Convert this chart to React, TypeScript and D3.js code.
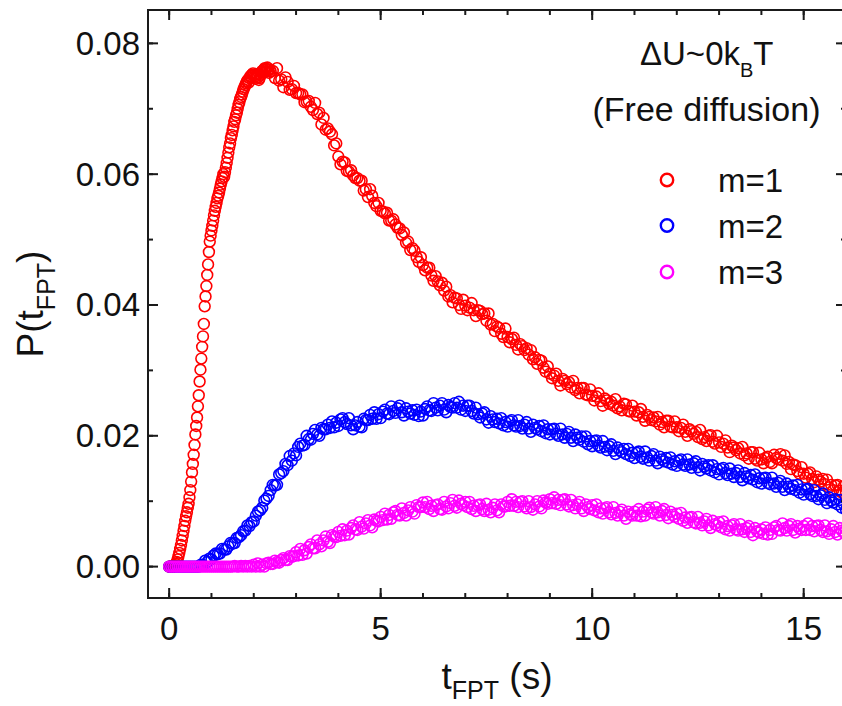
import React from "react";
import * as d3 from "d3";

// ---- sampling of the curves (s) ----
const m1RiseStart = 0;
const m1RiseStep = 0.02;
const m1TailStart = 2.45;
const sampleStep = 0.05;

// m=1, rising part, t = 0 ... 2.40 s (step 0.02 s)
const m1Rise = [
  0, 0, 0, 0, 0, 0, 0.0001, 0.0002, 0.0004, 0.0007,
  0.0011, 0.0016, 0.0021, 0.0027, 0.0033, 0.0040, 0.0047, 0.0055, 0.0062, 0.0070,
  0.0077, 0.0083, 0.0090, 0.0096, 0.0106, 0.0117, 0.0130, 0.0144, 0.0157, 0.0171,
  0.0186, 0.0202, 0.0215, 0.0228, 0.0245, 0.0262, 0.0283, 0.0301, 0.0318, 0.0336,
  0.0352, 0.0371, 0.0398, 0.0413, 0.0429, 0.0446, 0.0462, 0.0481, 0.0497, 0.0506,
  0.0514, 0.0521, 0.0529, 0.0537, 0.0544, 0.0550, 0.0556, 0.0563, 0.0567, 0.0572,
  0.0578, 0.0584, 0.0589, 0.0594, 0.0600, 0.0596, 0.0603, 0.0610, 0.0617, 0.0625,
  0.0633, 0.0641, 0.0647, 0.0655, 0.0660, 0.0667, 0.0673, 0.0680, 0.0684, 0.0690,
  0.0694, 0.0700, 0.0706, 0.0710, 0.0715, 0.0718, 0.0722, 0.0726, 0.0730, 0.0733,
  0.0736, 0.0739, 0.0742, 0.0744, 0.0740, 0.0747, 0.0750, 0.0748, 0.0752, 0.0754,
  0.0751, 0.0749, 0.0746, 0.0750, 0.0753, 0.0748, 0.0744, 0.0747, 0.0752, 0.0756,
  0.0758, 0.0755, 0.0760, 0.0762, 0.0757, 0.0761, 0.0763, 0.0759, 0.0755, 0.0760,
  0.0757,
];

// m=1, decaying part, t = 2.45 ... 16.00 s (step 0.05 s)
const m1Tail = [
  0.0758, 0.0747, 0.0762, 0.0743, 0.0745, 0.0733, 0.0748, 0.0741, 0.0729, 0.0730,
  0.0735, 0.0724, 0.0724, 0.0722, 0.0722, 0.0710, 0.0711, 0.0712, 0.0703, 0.0698,
  0.0709, 0.0692, 0.0694, 0.0676, 0.0686, 0.0668, 0.0670, 0.0665, 0.0661, 0.0644,
  0.0647, 0.0627, 0.0615, 0.0619, 0.0618, 0.0605, 0.0604, 0.0606, 0.0598, 0.0594,
  0.0594, 0.0590, 0.0590, 0.0575, 0.0577, 0.0565, 0.0577, 0.0567, 0.0556, 0.0551,
  0.0556, 0.0544, 0.0543, 0.0540, 0.0541, 0.0529, 0.0529, 0.0531, 0.0523, 0.0518,
  0.0517, 0.0507, 0.0511, 0.0495, 0.0497, 0.0484, 0.0487, 0.0483, 0.0473, 0.0466,
  0.0473, 0.0461, 0.0453, 0.0457, 0.0457, 0.0445, 0.0437, 0.0444, 0.0436, 0.0430,
  0.0434, 0.0422, 0.0428, 0.0413, 0.0415, 0.0404, 0.0411, 0.0410, 0.0400, 0.0394,
  0.0408, 0.0399, 0.0392, 0.0396, 0.0403, 0.0392, 0.0383, 0.0392, 0.0391, 0.0386,
  0.0387, 0.0376, 0.0387, 0.0370, 0.0371, 0.0360, 0.0367, 0.0365, 0.0356, 0.0351,
  0.0364, 0.0351, 0.0343, 0.0348, 0.0350, 0.0339, 0.0332, 0.0340, 0.0337, 0.0331,
  0.0334, 0.0324, 0.0331, 0.0317, 0.0320, 0.0310, 0.0316, 0.0315, 0.0304, 0.0298,
  0.0306, 0.0295, 0.0288, 0.0292, 0.0295, 0.0284, 0.0277, 0.0287, 0.0284, 0.0279,
  0.0282, 0.0274, 0.0284, 0.0270, 0.0273, 0.0265, 0.0273, 0.0273, 0.0263, 0.0262,
  0.0271, 0.0261, 0.0254, 0.0260, 0.0265, 0.0253, 0.0246, 0.0257, 0.0254, 0.0249,
  0.0252, 0.0246, 0.0256, 0.0242, 0.0245, 0.0239, 0.0249, 0.0248, 0.0238, 0.0237,
  0.0246, 0.0237, 0.0231, 0.0236, 0.0241, 0.0229, 0.0223, 0.0232, 0.0229, 0.0224,
  0.0228, 0.0222, 0.0229, 0.0217, 0.0221, 0.0213, 0.0223, 0.0223, 0.0214, 0.0213,
  0.0222, 0.0213, 0.0207, 0.0212, 0.0217, 0.0206, 0.0200, 0.0210, 0.0207, 0.0203,
  0.0206, 0.0198, 0.0209, 0.0195, 0.0198, 0.0192, 0.0200, 0.0201, 0.0191, 0.0188,
  0.0200, 0.0190, 0.0183, 0.0188, 0.0193, 0.0182, 0.0175, 0.0185, 0.0182, 0.0178,
  0.0181, 0.0173, 0.0183, 0.0170, 0.0173, 0.0165, 0.0175, 0.0175, 0.0165, 0.0162,
  0.0174, 0.0164, 0.0158, 0.0166, 0.0168, 0.0160, 0.0158, 0.0171, 0.0166, 0.0164,
  0.0172, 0.0162, 0.0170, 0.0157, 0.0160, 0.0149, 0.0156, 0.0155, 0.0146, 0.0142,
  0.0152, 0.0142, 0.0136, 0.0142, 0.0144, 0.0134, 0.0129, 0.0138, 0.0133, 0.0130,
  0.0134, 0.0126, 0.0133, 0.0121, 0.0125, 0.0117, 0.0124, 0.0125, 0.0116, 0.0113,
  0.0123, 0.0114,
];

// m=2, t = 0 ... 16.00 s (step 0.05 s)
const m2Values = [
  0, 0, 0, 0, 0, 0, 0, 0, 0, 0,
  0, 0, 0, 0, 0, 0.0003, 0.0002, 0.0009, 0.0007, 0.0012,
  0.0011, 0.0017, 0.0020, 0.0019, 0.0020, 0.0027, 0.0026, 0.0026, 0.0031, 0.0036,
  0.0035, 0.0036, 0.0044, 0.0045, 0.0048, 0.0054, 0.0055, 0.0063, 0.0062, 0.0068,
  0.0069, 0.0078, 0.0084, 0.0086, 0.0090, 0.0101, 0.0104, 0.0108, 0.0117, 0.0125,
  0.0124, 0.0125, 0.0141, 0.0143, 0.0146, 0.0157, 0.0155, 0.0169, 0.0162, 0.0173,
  0.0170, 0.0183, 0.0188, 0.0185, 0.0186, 0.0200, 0.0195, 0.0194, 0.0203, 0.0209,
  0.0202, 0.0200, 0.0212, 0.0210, 0.0210, 0.0217, 0.0212, 0.0222, 0.0213, 0.0220,
  0.0215, 0.0225, 0.0227, 0.0221, 0.0218, 0.0227, 0.0216, 0.0210, 0.0216, 0.0221,
  0.0214, 0.0213, 0.0226, 0.0224, 0.0224, 0.0232, 0.0226, 0.0236, 0.0226, 0.0233,
  0.0227, 0.0237, 0.0240, 0.0234, 0.0233, 0.0245, 0.0238, 0.0235, 0.0242, 0.0246,
  0.0236, 0.0231, 0.0242, 0.0237, 0.0234, 0.0239, 0.0232, 0.0240, 0.0230, 0.0237,
  0.0231, 0.0241, 0.0245, 0.0239, 0.0238, 0.0250, 0.0243, 0.0239, 0.0246, 0.0250,
  0.0240, 0.0236, 0.0247, 0.0244, 0.0243, 0.0250, 0.0243, 0.0252, 0.0240, 0.0246,
  0.0238, 0.0246, 0.0246, 0.0238, 0.0234, 0.0243, 0.0233, 0.0228, 0.0234, 0.0236,
  0.0225, 0.0220, 0.0230, 0.0225, 0.0221, 0.0226, 0.0219, 0.0227, 0.0216, 0.0221,
  0.0214, 0.0222, 0.0224, 0.0216, 0.0214, 0.0224, 0.0215, 0.0211, 0.0217, 0.0221,
  0.0211, 0.0206, 0.0217, 0.0212, 0.0210, 0.0215, 0.0207, 0.0216, 0.0204, 0.0210,
  0.0202, 0.0210, 0.0211, 0.0203, 0.0200, 0.0211, 0.0202, 0.0197, 0.0203, 0.0206,
  0.0197, 0.0192, 0.0202, 0.0197, 0.0194, 0.0199, 0.0191, 0.0199, 0.0187, 0.0192,
  0.0184, 0.0192, 0.0193, 0.0185, 0.0182, 0.0192, 0.0183, 0.0178, 0.0184, 0.0187,
  0.0177, 0.0172, 0.0182, 0.0178, 0.0175, 0.0180, 0.0172, 0.0180, 0.0169, 0.0174,
  0.0166, 0.0174, 0.0176, 0.0168, 0.0165, 0.0176, 0.0167, 0.0162, 0.0169, 0.0172,
  0.0162, 0.0158, 0.0168, 0.0164, 0.0161, 0.0166, 0.0159, 0.0167, 0.0156, 0.0161,
  0.0154, 0.0162, 0.0164, 0.0156, 0.0154, 0.0164, 0.0156, 0.0151, 0.0158, 0.0161,
  0.0152, 0.0147, 0.0157, 0.0153, 0.0150, 0.0155, 0.0147, 0.0155, 0.0144, 0.0149,
  0.0141, 0.0149, 0.0151, 0.0143, 0.0140, 0.0150, 0.0142, 0.0137, 0.0143, 0.0147,
  0.0137, 0.0132, 0.0143, 0.0138, 0.0135, 0.0140, 0.0133, 0.0141, 0.0129, 0.0135,
  0.0127, 0.0135, 0.0136, 0.0128, 0.0126, 0.0136, 0.0127, 0.0122, 0.0128, 0.0131,
  0.0122, 0.0117, 0.0127, 0.0122, 0.0119, 0.0124, 0.0117, 0.0125, 0.0113, 0.0118,
  0.0110, 0.0118, 0.0119, 0.0111, 0.0108, 0.0117, 0.0108, 0.0103, 0.0109, 0.0112,
  0.0102, 0.0097, 0.0106, 0.0101, 0.0098, 0.0103, 0.0095, 0.0102, 0.0090, 0.0095,
  0.0087,
];

// m=3, t = 0 ... 16.00 s (step 0.05 s)
const m3Values = [
  0, 0, 0, 0, 0, 0, 0, 0, 0, 0,
  0, 0, 0, 0, 0, 0, 0, 0, 0, 0,
  0, 0, 0, 0, 0, 0, 0, 0, 0, 0,
  0, 0.0001, 0, 0, 0.0001, 0, 0.0001, 0, 0.0001, 0,
  0.0003, 0, 0.0005, 0, 0.0003, 0, 0.0005, 0.0006, 0.0004, 0.0004,
  0.0009, 0.0007, 0.0006, 0.0010, 0.0013, 0.0010, 0.0010, 0.0016, 0.0015, 0.0016,
  0.0022, 0.0017, 0.0027, 0.0018, 0.0025, 0.0020, 0.0030, 0.0034, 0.0028, 0.0028,
  0.0040, 0.0034, 0.0031, 0.0040, 0.0046, 0.0038, 0.0036, 0.0048, 0.0046, 0.0045,
  0.0053, 0.0047, 0.0057, 0.0048, 0.0055, 0.0049, 0.0059, 0.0063, 0.0057, 0.0056,
  0.0068, 0.0061, 0.0058, 0.0066, 0.0071, 0.0063, 0.0060, 0.0072, 0.0070, 0.0069,
  0.0076, 0.0071, 0.0081, 0.0072, 0.0079, 0.0073, 0.0083, 0.0085, 0.0079, 0.0078,
  0.0089, 0.0082, 0.0078, 0.0086, 0.0091, 0.0084, 0.0081, 0.0094, 0.0091, 0.0091,
  0.0098, 0.0091, 0.0099, 0.0088, 0.0093, 0.0085, 0.0094, 0.0095, 0.0088, 0.0087,
  0.0099, 0.0092, 0.0089, 0.0097, 0.0102, 0.0093, 0.0090, 0.0101, 0.0096, 0.0094,
  0.0099, 0.0091, 0.0099, 0.0088, 0.0093, 0.0085, 0.0094, 0.0095, 0.0088, 0.0085,
  0.0096, 0.0087, 0.0083, 0.0090, 0.0095, 0.0086, 0.0083, 0.0095, 0.0092, 0.0092,
  0.0099, 0.0093, 0.0103, 0.0093, 0.0099, 0.0091, 0.0099, 0.0100, 0.0092, 0.0089,
  0.0100, 0.0091, 0.0087, 0.0095, 0.0100, 0.0092, 0.0089, 0.0101, 0.0098, 0.0096,
  0.0103, 0.0097, 0.0106, 0.0096, 0.0102, 0.0094, 0.0102, 0.0103, 0.0095, 0.0092,
  0.0102, 0.0094, 0.0089, 0.0095, 0.0099, 0.0089, 0.0085, 0.0095, 0.0091, 0.0088,
  0.0094, 0.0086, 0.0095, 0.0083, 0.0089, 0.0081, 0.0089, 0.0091, 0.0083, 0.0080,
  0.0091, 0.0082, 0.0078, 0.0084, 0.0087, 0.0078, 0.0073, 0.0084, 0.0080, 0.0078,
  0.0084, 0.0078, 0.0088, 0.0077, 0.0084, 0.0078, 0.0087, 0.0090, 0.0083, 0.0081,
  0.0091, 0.0083, 0.0078, 0.0085, 0.0088, 0.0079, 0.0074, 0.0084, 0.0079, 0.0076,
  0.0081, 0.0073, 0.0082, 0.0070, 0.0075, 0.0067, 0.0075, 0.0076, 0.0068, 0.0066,
  0.0076, 0.0067, 0.0063, 0.0069, 0.0073, 0.0063, 0.0059, 0.0070, 0.0065, 0.0063,
  0.0068, 0.0060, 0.0069, 0.0057, 0.0062, 0.0055, 0.0063, 0.0065, 0.0057, 0.0055,
  0.0065, 0.0057, 0.0053, 0.0059, 0.0062, 0.0053, 0.0048, 0.0059, 0.0054, 0.0052,
  0.0057, 0.0050, 0.0060, 0.0049, 0.0056, 0.0050, 0.0060, 0.0062, 0.0056, 0.0055,
  0.0066, 0.0059, 0.0055, 0.0062, 0.0065, 0.0056, 0.0052, 0.0062, 0.0058, 0.0056,
  0.0062, 0.0056, 0.0066, 0.0056, 0.0062, 0.0054, 0.0062, 0.0063, 0.0056, 0.0053,
  0.0063, 0.0054, 0.0050, 0.0057, 0.0062, 0.0053, 0.0049, 0.0059, 0.0055, 0.0052,
  0.0058,
];

// ---- axes ----
const xMajorTicks = [0, 5, 10, 15];
const xTickLabels = ["0", "5", "10", "15"];
const xMinorTicks = [0, 1, 2, 3, 4, 5, 6, 7, 8, 9, 10, 11, 12, 13, 14, 15, 16];
const yMajorTicks = [0, 0.02, 0.04, 0.06, 0.08];
const yTickLabels = ["0.00", "0.02", "0.04", "0.06", "0.08"];
const yMinorTicks = [0, 0.01, 0.02, 0.03, 0.04, 0.05, 0.06, 0.07, 0.08];

// ---- legend ----
const seriesNames = ["m=1", "m=2", "m=3"];
const seriesColors = ["#ff0000", "#0000ff", "#ff00ff"];

const FONT = "'Liberation Sans', Arial, Helvetica, sans-serif";
const AXIS = "#1a1a1a";

export default function App() {
  const W = 842;
  const H = 706;
  const left = 148, right = 846, top = 10, bottom = 598;

  const x = d3.scaleLinear().domain([-0.5, 16]).range([left, right]);
  const y = d3.scaleLinear().domain([-0.0048, 0.0851]).range([bottom, top]);

  const m1Points: [number, number][] = [
    ...m1Rise.map((p, i) => [m1RiseStart + i * m1RiseStep, p] as [number, number]),
    ...m1Tail.map((p, i) => [m1TailStart + i * sampleStep, p] as [number, number]),
  ];
  const m2Points: [number, number][] = m2Values.map((p, i) => [i * sampleStep, p]);
  const m3Points: [number, number][] = m3Values.map((p, i) => [i * sampleStep, p]);
  const series = [m1Points, m2Points, m3Points];

  const legendX = 667;
  const legendY = [180, 225.5, 272];

  return (
    <svg
      width={W}
      height={H}
      viewBox={`0 0 ${W} ${H}`}
      style={{ position: "absolute", left: 0, top: 0, background: "#fff" }}
      fontFamily={FONT}
    >
      <rect x={0} y={0} width={W} height={H} fill="#fff" />

      {/* data */}
      {series.map((pts, si) => (
        <g key={si} fill="none" stroke={seriesColors[si]} strokeWidth={1.6}>
          {pts.map(([t, p], i) => (
            <circle key={i} cx={x(t)} cy={y(p)} r={5.4} />
          ))}
        </g>
      ))}

      {/* frame */}
      <g stroke={AXIS} strokeWidth={2} fill="none">
        <line x1={left} y1={top} x2={left} y2={bottom + 1} />
        <line x1={left - 1} y1={bottom} x2={right} y2={bottom} />
        <line x1={left - 1} y1={top} x2={right} y2={top} />
        <line x1={right} y1={top} x2={right} y2={bottom} />
      </g>

      {/* ticks on all four sides, pointing inwards */}
      <g stroke={AXIS} strokeWidth={2}>
        {xMinorTicks.map((v) => (
          <g key={"xm" + v}>
            <line x1={x(v)} x2={x(v)} y1={bottom} y2={bottom - 5} />
            <line x1={x(v)} x2={x(v)} y1={top} y2={top + 5} />
          </g>
        ))}
        {xMajorTicks.map((v) => (
          <g key={"xM" + v}>
            <line x1={x(v)} x2={x(v)} y1={bottom} y2={bottom - 10} />
            <line x1={x(v)} x2={x(v)} y1={top} y2={top + 10} />
          </g>
        ))}
        {yMinorTicks.map((v) => (
          <g key={"ym" + v}>
            <line x1={left} x2={left + 5} y1={y(v)} y2={y(v)} />
            <line x1={right} x2={right - 5} y1={y(v)} y2={y(v)} />
          </g>
        ))}
        {yMajorTicks.map((v) => (
          <g key={"yM" + v}>
            <line x1={left} x2={left + 10} y1={y(v)} y2={y(v)} />
            <line x1={right} x2={right - 10} y1={y(v)} y2={y(v)} />
          </g>
        ))}
      </g>

      {/* tick labels */}
      <g fill="#111" fontSize={33}>
        {yMajorTicks.map((v, i) => (
          <text key={"yl" + v} x={140} y={y(v) + 11.5} textAnchor="end">
            {yTickLabels[i]}
          </text>
        ))}
        {xMajorTicks.map((v, i) => (
          <text key={"xl" + v} x={x(v)} y={640} textAnchor="middle">
            {xTickLabels[i]}
          </text>
        ))}
      </g>

      {/* axis titles */}
      <text x={(left + right) / 2} y={689} textAnchor="middle" fontSize={37} fill="#111">
        t
        <tspan fontSize={25} dy={10}>FPT</tspan>
        <tspan dy={-10}>{" (s)"}</tspan>
      </text>
      <text
        transform={`translate(43, ${(top + bottom) / 2}) rotate(-90)`}
        textAnchor="middle"
        fontSize={37}
        fill="#111"
      >
        P(t
        <tspan fontSize={25} dy={12}>FPT</tspan>
        <tspan dy={-12}>)</tspan>
      </text>

      {/* annotations */}
      <text x={640} y={65} fontSize={33} fill="#111">
        ΔU~0k
        <tspan fontSize={20} dy={12}>B</tspan>
        <tspan dy={-12}>T</tspan>
      </text>
      <text x={706.5} y={121} fontSize={34} fill="#111" textAnchor="middle">
        (Free diffusion)
      </text>

      {/* legend */}
      {seriesNames.map((name, i) => (
        <g key={name}>
          <circle cx={legendX} cy={legendY[i]} r={6.2} fill="none" stroke={seriesColors[i]} strokeWidth={2.4} />
          <text x={718} y={legendY[i] + 12} fontSize={33} fill="#111">
            {name}
          </text>
        </g>
      ))}
    </svg>
  );
}
